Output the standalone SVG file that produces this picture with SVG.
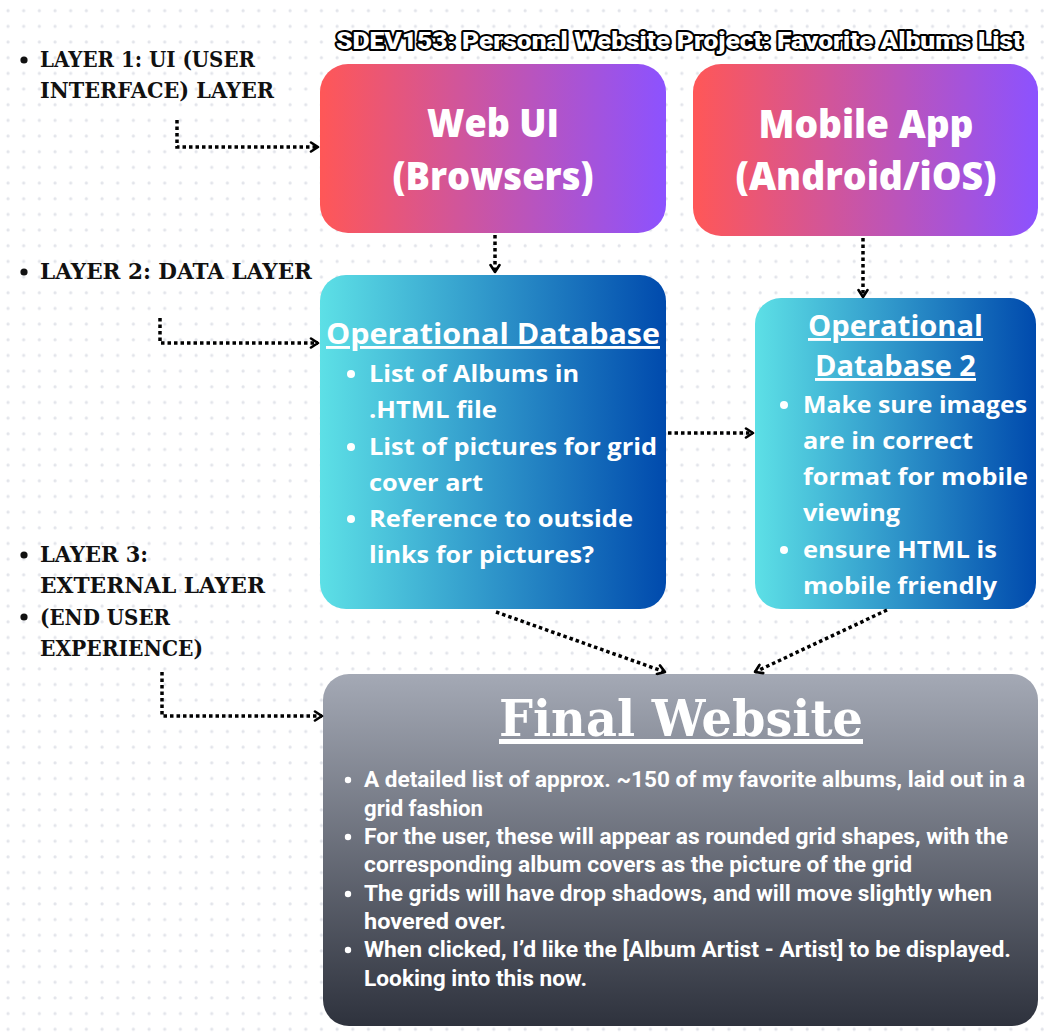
<svg xmlns="http://www.w3.org/2000/svg" width="1048" height="1036" viewBox="0 0 1048 1036">
<defs>
<pattern id="dots" x="0" y="0" width="15.67" height="15.67" patternUnits="userSpaceOnUse">
<circle cx="8" cy="10.7" r="1.6" fill="#e2e4ea"/>
</pattern>
<linearGradient id="gUI" x1="0" y1="0" x2="1" y2="0">
<stop offset="0" stop-color="#ff5757"/><stop offset="1" stop-color="#8c52ff"/>
</linearGradient>
<linearGradient id="gDB" x1="0" y1="0" x2="1" y2="0">
<stop offset="0" stop-color="#5de0e6"/><stop offset="1" stop-color="#004aad"/>
</linearGradient>
<linearGradient id="gFin" x1="0" y1="0" x2="0" y2="1">
<stop offset="0" stop-color="#a4a9b5"/><stop offset="1" stop-color="#2e323d"/>
</linearGradient>
<marker id="arr" viewBox="0 0 12 12" refX="10" refY="6" markerWidth="12" markerHeight="12" markerUnits="userSpaceOnUse" orient="auto">
<path d="M3,1.5 L10,6 L3,10.5" fill="none" stroke="#000" stroke-width="2.6" stroke-linecap="round" stroke-linejoin="round"/>
</marker>
<style>
.lbl{font-family:"DejaVu Serif",serif;font-weight:700;font-size:23px;fill:#111}
.big{font-family:"Open Sans","Liberation Sans",sans-serif;font-weight:800;font-size:39px;fill:#fff;text-anchor:middle}
.hd{font-family:"Open Sans","Liberation Sans",sans-serif;font-weight:700;font-size:29px;fill:#fff;text-decoration:underline}
.bt{font-family:"Open Sans","Liberation Sans",sans-serif;font-weight:700;font-size:24px;fill:#fff}
.fb{font-family:Roboto,"Liberation Sans",sans-serif;font-weight:700;font-size:22px;fill:#fff}
.ft{font-family:"DejaVu Serif",serif;font-weight:700;font-size:50px;fill:#fff;text-decoration:underline}
.ttl{font-family:Roboto,"Liberation Sans",sans-serif;font-weight:900;font-size:24px;fill:#fff;stroke:#000;stroke-width:4;stroke-linejoin:round;paint-order:stroke}
.con{fill:none;stroke:#000;stroke-width:3.5;stroke-dasharray:3.5 3}
</style>
</defs>
<rect width="1048" height="1036" fill="#fff"/>
<rect width="1048" height="1036" fill="url(#dots)"/>

<g id="title">
<text class="ttl" x="336" y="49" textLength="686" lengthAdjust="spacingAndGlyphs">SDEV153: Personal Website Project: Favorite Albums List</text>
</g>

<g id="layer-labels">
<circle cx="24" cy="60" r="3.6" fill="#111"/>
<text class="lbl" x="40" y="67" textLength="215" lengthAdjust="spacingAndGlyphs">LAYER 1: UI (USER</text>
<text class="lbl" x="40" y="98" textLength="234" lengthAdjust="spacingAndGlyphs">INTERFACE) LAYER</text>
<circle cx="24" cy="272" r="3.6" fill="#111"/>
<text class="lbl" x="40" y="279" textLength="272" lengthAdjust="spacingAndGlyphs">LAYER 2: DATA LAYER</text>
<circle cx="24" cy="555" r="3.6" fill="#111"/>
<text class="lbl" x="40" y="562" textLength="108" lengthAdjust="spacingAndGlyphs">LAYER 3:</text>
<text class="lbl" x="40" y="593" textLength="225" lengthAdjust="spacingAndGlyphs">EXTERNAL LAYER</text>
<circle cx="24" cy="617" r="3.6" fill="#111"/>
<text class="lbl" x="40" y="625" textLength="130" lengthAdjust="spacingAndGlyphs">(END USER</text>
<text class="lbl" x="40" y="656" textLength="163" lengthAdjust="spacingAndGlyphs">EXPERIENCE)</text>
</g>

<g id="web-ui">
<rect x="320" y="64" width="346" height="169" rx="28" fill="url(#gUI)"/>
<text class="big" x="493" y="137" textLength="132" lengthAdjust="spacingAndGlyphs">Web UI</text>
<text class="big" x="493" y="190" textLength="201" lengthAdjust="spacingAndGlyphs">(Browsers)</text>
</g>

<g id="mobile-app">
<rect x="693" y="64" width="345" height="172" rx="28" fill="url(#gUI)"/>
<text class="big" x="866" y="138" textLength="215" lengthAdjust="spacingAndGlyphs">Mobile App</text>
<text class="big" x="866" y="190" textLength="261" lengthAdjust="spacingAndGlyphs">(Android/iOS)</text>
</g>

<g id="op-db">
<rect x="320" y="275" width="346" height="334" rx="26" fill="url(#gDB)"/>
<text class="hd" x="326" y="344" textLength="334" lengthAdjust="spacingAndGlyphs">Operational Database</text>
<circle cx="351" cy="374" r="4" fill="#fff"/>
<text class="bt" x="369" y="382" textLength="210" lengthAdjust="spacingAndGlyphs">List of Albums in</text>
<text class="bt" x="369" y="418" textLength="128" lengthAdjust="spacingAndGlyphs">.HTML file</text>
<circle cx="351" cy="447" r="4" fill="#fff"/>
<text class="bt" x="369" y="455" textLength="288" lengthAdjust="spacingAndGlyphs">List of pictures for grid</text>
<text class="bt" x="369" y="491" textLength="114" lengthAdjust="spacingAndGlyphs">cover art</text>
<circle cx="351" cy="519" r="4" fill="#fff"/>
<text class="bt" x="369" y="527" textLength="264" lengthAdjust="spacingAndGlyphs">Reference to outside</text>
<text class="bt" x="369" y="563" textLength="225" lengthAdjust="spacingAndGlyphs">links for pictures?</text>
</g>

<g id="op-db-2">
<rect x="755" y="298" width="281" height="311" rx="26" fill="url(#gDB)"/>
<text class="hd" x="808" y="336" textLength="175" lengthAdjust="spacingAndGlyphs">Operational</text>
<text class="hd" x="815" y="376" textLength="161" lengthAdjust="spacingAndGlyphs">Database 2</text>
<circle cx="784" cy="405" r="4" fill="#fff"/>
<text class="bt" x="803" y="413" textLength="224" lengthAdjust="spacingAndGlyphs">Make sure images</text>
<text class="bt" x="803" y="449" textLength="170" lengthAdjust="spacingAndGlyphs">are in correct</text>
<text class="bt" x="803" y="485" textLength="225" lengthAdjust="spacingAndGlyphs">format for mobile</text>
<text class="bt" x="803" y="521" textLength="97" lengthAdjust="spacingAndGlyphs">viewing</text>
<circle cx="784" cy="550" r="4" fill="#fff"/>
<text class="bt" x="803" y="558" textLength="194" lengthAdjust="spacingAndGlyphs">ensure HTML is</text>
<text class="bt" x="803" y="594" textLength="194" lengthAdjust="spacingAndGlyphs">mobile friendly</text>
</g>

<g id="final-website">
<rect x="323" y="674" width="715" height="352" rx="26" fill="url(#gFin)"/>
<text class="ft" x="499" y="736" textLength="364" lengthAdjust="spacingAndGlyphs">Final Website</text>
<circle cx="348" cy="780" r="3.2" fill="#fff"/>
<text class="fb" x="364" y="787" textLength="661" lengthAdjust="spacingAndGlyphs">A detailed list of approx. ~150 of my favorite albums, laid out in a</text>
<text class="fb" x="364" y="816" textLength="119" lengthAdjust="spacingAndGlyphs">grid fashion</text>
<circle cx="348" cy="837" r="3.2" fill="#fff"/>
<text class="fb" x="364" y="844" textLength="644" lengthAdjust="spacingAndGlyphs">For the user, these will appear as rounded grid shapes, with the</text>
<text class="fb" x="364" y="872" textLength="548" lengthAdjust="spacingAndGlyphs">corresponding album covers as the picture of the grid</text>
<circle cx="348" cy="894" r="3.2" fill="#fff"/>
<text class="fb" x="364" y="901" textLength="628" lengthAdjust="spacingAndGlyphs">The grids will have drop shadows, and will move slightly when</text>
<text class="fb" x="364" y="929" textLength="142" lengthAdjust="spacingAndGlyphs">hovered over.</text>
<circle cx="348" cy="950" r="3.2" fill="#fff"/>
<text class="fb" x="364" y="957" textLength="647" lengthAdjust="spacingAndGlyphs">When clicked, I’d like the [Album Artist - Artist] to be displayed.</text>
<text class="fb" x="364" y="986" textLength="223" lengthAdjust="spacingAndGlyphs">Looking into this now.</text>
</g>

<g id="connectors">
<path class="con" d="M177,120 V147 H318" marker-end="url(#arr)"/>
<path class="con" d="M160,318 V343 H318" marker-end="url(#arr)"/>
<path class="con" d="M162,672 V716 H322" marker-end="url(#arr)"/>
<path class="con" d="M495,235 V272" marker-end="url(#arr)"/>
<path class="con" d="M863,238 V297" marker-end="url(#arr)"/>
<path class="con" d="M668,433 H753" marker-end="url(#arr)"/>
<path class="con" d="M496,612 L665,672" marker-end="url(#arr)"/>
<path class="con" d="M887,610 L755,672" marker-end="url(#arr)"/>
</g>
</svg>
